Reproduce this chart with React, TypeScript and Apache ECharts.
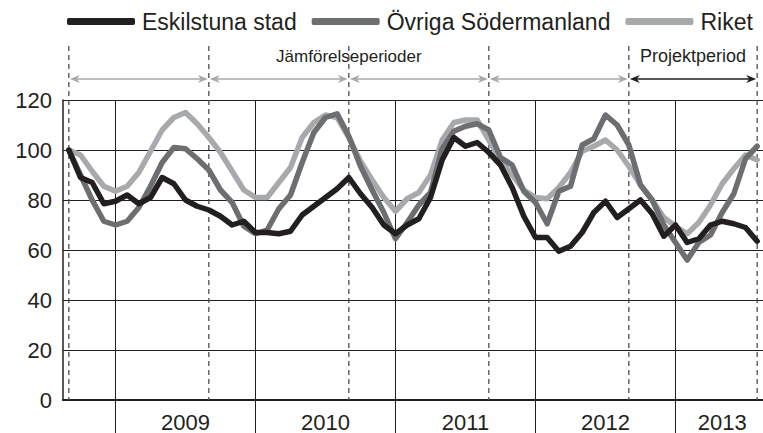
import React, { useEffect, useRef } from 'react';
import * as echarts from 'echarts';

// Monthly categories, Sep 2008 – Aug 2013
const categories: string[] = [];
for (let i = 0; i < 60; i++) {
  const m = 8 + i;
  const y = 2008 + Math.floor(m / 12);
  const mo = (m % 12) + 1;
  categories.push(`${y}-${String(mo).padStart(2, '0')}`);
}

const seriesNames = ['Eskilstuna stad', 'Övriga Södermanland', 'Riket'];

const eskilstuna = [
  100, 89, 87, 78.5, 79.5, 82, 78.5, 81, 89, 86.5, 80, 77.5,
  76, 73.5, 70, 71.5, 67, 67, 66.5, 67.5, 74, 77.5, 81, 84.5,
  89, 82.5, 77, 70, 66.5, 70, 72.5, 81, 96, 105, 101.5, 103,
  99, 94, 85, 73.5, 65, 65, 59.5, 61.5, 67, 75, 79.5, 73,
  76.5, 80, 74.5, 65.5, 70, 63, 64.5, 70, 71.5, 70.5, 69, 63.5,
];
const ovrigaSodermanland = [
  100, 90, 80, 71.5, 70, 71.5, 77, 85.5, 95, 101, 100.5, 96.5,
  92, 84, 79, 69.5, 66.5, 68, 76.5, 82, 95, 107, 113, 114.5,
  105.5, 93.5, 84, 75, 64.5, 71, 78, 83, 100.5, 107.5, 109.5, 110.5,
  108, 97, 94, 83.5, 79, 70.5, 83.5, 85.5, 102, 104.5, 114, 110,
  102, 86, 80, 70, 63, 56, 63, 66, 75, 82.5, 96.5, 101.5,
];
const riket = [
  100, 98, 91.5, 85.5, 83.5, 85.5, 91, 99.5, 108, 113, 115, 110.5,
  105, 99, 91.5, 84, 81, 81, 87, 93, 105, 111, 114, 113,
  105, 95.5, 88, 81, 75.5, 80.5, 83, 90, 104, 111, 112, 112,
  104, 96, 90, 84, 81, 80.5, 85, 91, 99.5, 101.5, 104, 100,
  93.5, 86, 80, 73, 69.5, 66.5, 71, 78, 86.5, 92.5, 98, 96,
];

const yearTickCategories = ['2009-01', '2010-01', '2011-01', '2012-01', '2013-01'];
const yearLabelCategories = ['2009-07', '2010-07', '2011-07', '2012-07', '2013-05'];
const periodBounds = ['2008-09', '2009-09', '2010-09', '2011-09', '2012-09', '2013-08'];
const comparisonLabel = 'Jämförelseperioder';
const projectLabel = 'Projektperiod';

const FONT = '"Liberation Sans", Arial, Helvetica, sans-serif';
const C_BLACK = '#231f20';
const C_DARK = '#6d6e71';
const C_LIGHT = '#a7a9ac';

export default function App() {
  const ref = useRef<HTMLDivElement>(null);

  useEffect(() => {
    if (!ref.current) return;
    const chart = echarts.init(ref.current, undefined, { renderer: 'svg' });

    const mkSeries = (name: string, data: number[], color: string, z: number) => ({
      name,
      type: 'line',
      data,
      showSymbol: false,
      symbol: 'none',
      z,
      color,
      lineStyle: { color, width: 5.5, cap: 'round', join: 'round' },
    });

    chart.setOption({
      animation: false,
      textStyle: { fontFamily: FONT },
      grid: { left: 63, right: 0, top: 100, bottom: 33, containLabel: false },
      legend: {
        data: seriesNames,
        left: 62,
        top: 5,
        icon: 'roundRect',
        itemWidth: 68,
        itemHeight: 7,
        itemGap: 15,
        textStyle: { fontSize: 23, color: C_BLACK, fontFamily: FONT, padding: [0, 0, 0, 2] },
      },
      xAxis: {
        type: 'category',
        data: categories,
        boundaryGap: true,
        axisLine: { show: true, lineStyle: { color: C_BLACK, width: 2 } },
        axisTick: {
          show: true,
          alignWithLabel: true,
          length: 33,
          interval: (idx: number, val: string) => yearTickCategories.includes(val),
          lineStyle: { color: C_BLACK, width: 1 },
        },
        axisLabel: {
          show: true,
          interval: (idx: number, val: string) => yearLabelCategories.includes(val),
          formatter: (val: string) => val.slice(0, 4),
          fontSize: 22,
          color: C_BLACK,
          fontFamily: FONT,
          margin: 11,
        },
        splitLine: {
          show: true,
          alignWithLabel: true,
          interval: (idx: number, val: string) => yearTickCategories.includes(val),
          lineStyle: { color: C_BLACK, width: 1 },
        },
      },
      yAxis: {
        type: 'value',
        min: 0,
        max: 120,
        interval: 20,
        axisLine: { show: true, lineStyle: { color: C_BLACK, width: 1.5 } },
        axisTick: { show: false },
        axisLabel: { fontSize: 22, color: C_BLACK, fontFamily: FONT, margin: 11 },
        splitLine: { show: true, lineStyle: { color: C_BLACK, width: 1 } },
      },
      series: [
        mkSeries(seriesNames[2], riket, C_LIGHT, 2),
        mkSeries(seriesNames[1], ovrigaSodermanland, C_DARK, 3),
        mkSeries(seriesNames[0], eskilstuna, C_BLACK, 4),
      ],
    });

    // Annotation graphics positioned from the axis scales
    const xp = (c: string) => chart.convertToPixel({ xAxisIndex: 0 }, c) as number;
    const yBottom = chart.convertToPixel({ yAxisIndex: 0 }, 0) as number;
    const lineTop = 46;
    const arrowY = 79;
    const labelY = 56;
    const graphics: any[] = [];
    const bx = periodBounds.map(xp);
    bx.forEach((x) => {
      graphics.push({
        type: 'line',
        shape: { x1: x, y1: lineTop, x2: x, y2: yBottom },
        style: { stroke: '#4d4d4f', lineWidth: 1.3, lineDash: [5, 4] },
        z: 1,
        silent: true,
      });
    });
    const head = (tipX: number, dir: number, color: string) => ({
      type: 'polygon',
      shape: {
        points: [
          [tipX, arrowY],
          [tipX - dir * 10, arrowY - 4],
          [tipX - dir * 7, arrowY],
          [tipX - dir * 10, arrowY + 4],
        ],
      },
      style: { fill: color },
      silent: true,
      z: 5,
    });
    for (let k = 0; k < bx.length - 1; k++) {
      const color = k === bx.length - 2 ? C_BLACK : C_LIGHT;
      const a = bx[k] + 1;
      const b = bx[k + 1] - 1;
      graphics.push({
        type: 'line',
        shape: { x1: a + 3, y1: arrowY, x2: b - 3, y2: arrowY },
        style: { stroke: color, lineWidth: 1.6 },
        silent: true,
        z: 5,
      });
      graphics.push(head(a, -1, color));
      graphics.push(head(b, 1, color));
    }
    graphics.push({
      type: 'text',
      x: (bx[0] + bx[4]) / 2,
      y: labelY,
      style: { text: comparisonLabel, fontSize: 17, fontFamily: FONT, fill: C_BLACK, align: 'center', verticalAlign: 'middle' },
      silent: true,
    });
    graphics.push({
      type: 'text',
      x: (bx[4] + bx[5]) / 2,
      y: labelY,
      style: { text: projectLabel, fontSize: 18, fontFamily: FONT, fill: C_BLACK, align: 'center', verticalAlign: 'middle' },
      silent: true,
    });
    chart.setOption({ graphic: graphics });

    return () => chart.dispose();
  }, []);

  return (
    <div
      ref={ref}
      style={{ position: 'fixed', left: 0, top: 0, width: 763, height: 433, background: '#fff' }}
    />
  );
}
